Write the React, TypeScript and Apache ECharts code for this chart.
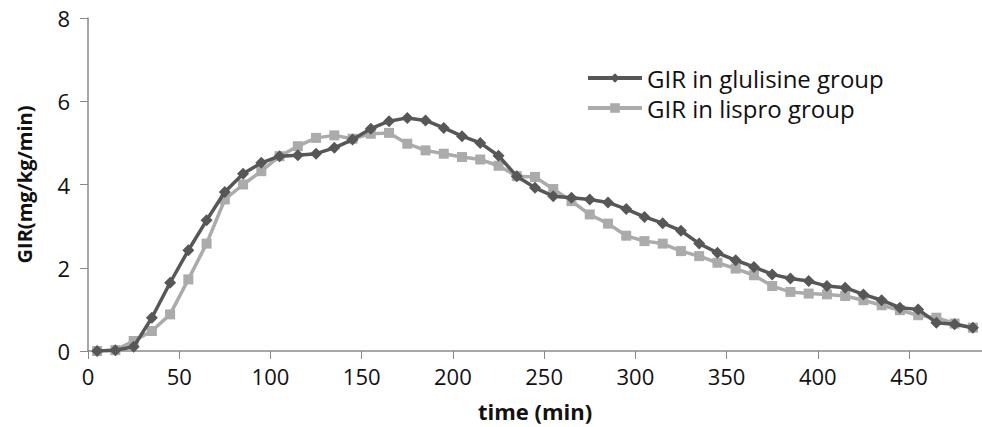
import React, { useEffect, useRef } from "react";
import * as echarts from "echarts";

const times = [5, 15, 25, 35, 45, 55, 65, 75, 85, 95, 105, 115, 125, 135, 145, 155, 165, 175, 185, 195, 205, 215, 225, 235, 245, 255, 265, 275, 285, 295, 305, 315, 325, 335, 345, 355, 365, 375, 385, 395, 405, 415, 425, 435, 445, 455, 465, 475, 485];
const glulisine = [0, 0.02, 0.1, 0.8, 1.64, 2.42, 3.14, 3.82, 4.26, 4.52, 4.68, 4.7, 4.74, 4.88, 5.08, 5.34, 5.52, 5.6, 5.54, 5.36, 5.16, 5.0, 4.69, 4.2, 3.92, 3.72, 3.68, 3.64, 3.57, 3.41, 3.22, 3.07, 2.89, 2.58, 2.36, 2.18, 2.02, 1.84, 1.74, 1.68, 1.56, 1.52, 1.36, 1.22, 1.04, 1.0, 0.68, 0.64, 0.56];
const lispro = [0, 0.02, 0.24, 0.48, 0.88, 1.72, 2.58, 3.64, 4.0, 4.32, 4.68, 4.92, 5.12, 5.18, 5.1, 5.22, 5.24, 4.98, 4.82, 4.74, 4.66, 4.6, 4.45, 4.2, 4.18, 3.89, 3.6, 3.28, 3.06, 2.77, 2.64, 2.58, 2.4, 2.28, 2.12, 1.98, 1.82, 1.56, 1.42, 1.38, 1.36, 1.32, 1.22, 1.1, 0.98, 0.86, 0.8, 0.66, 0.56];
const seriesNames = ["GIR in glulisine group", "GIR in lispro group"];
const xTitle = "time (min)";
const yTitle = "GIR(mg/kg/min)";

const FONT = "'Open Sans', 'Liberation Sans', sans-serif";

export default function App() {
  const ref = useRef<HTMLDivElement>(null);
  useEffect(() => {
    if (!ref.current) return;
    const chart = echarts.init(ref.current, undefined, { renderer: "svg" });
    const axisColor = "#8a8a8a";
    chart.setOption({
      animation: false,
      backgroundColor: "#ffffff",
      textStyle: { fontFamily: FONT },
      grid: { left: 88, right: 0, top: 18, bottom: 75 },
      legend: {
        orient: "vertical",
        left: 581,
        top: 61,
        itemWidth: 54,
        itemHeight: 12,
        itemGap: 6,
        lineStyle: { width: 4 },
        textStyle: { fontSize: 24, color: "#111", fontFamily: FONT },
        data: seriesNames,
      },
      xAxis: {
        type: "value",
        min: 0,
        max: 490,
        interval: 50,
        name: xTitle,
        nameLocation: "middle",
        nameGap: 49,
        nameTextStyle: { fontSize: 22, fontWeight: "bold", color: "#111", fontFamily: FONT },
        axisLine: { lineStyle: { color: axisColor, width: 1.5 } },
        axisTick: { show: true, length: 8, lineStyle: { color: axisColor } },
        axisLabel: {
          fontSize: 22,
          color: "#111",
          margin: 14,
          showMaxLabel: false,
          formatter: (v: number) => (v % 50 === 0 ? String(v) : ""),
        },
        splitLine: { show: false },
      },
      yAxis: {
        type: "value",
        min: 0,
        max: 8,
        interval: 2,
        name: yTitle,
        nameLocation: "middle",
        nameGap: 54,
        nameTextStyle: { fontSize: 20, fontWeight: "bold", color: "#111", fontFamily: FONT },
        axisLine: { show: true, lineStyle: { color: axisColor, width: 1.5 } },
        axisTick: { show: true, length: 8, lineStyle: { color: axisColor } },
        axisLabel: { fontSize: 22, color: "#111", margin: 18 },
        splitLine: { show: false },
      },
      series: [
        {
          name: seriesNames[0],
          type: "line",
          data: times.map((t, i) => [t, glulisine[i]]),
          symbol: "diamond",
          symbolSize: 12,
          itemStyle: { color: "#575757" },
          lineStyle: { color: "#575757", width: 3.5 },
          z: 3,
        },
        {
          name: seriesNames[1],
          type: "line",
          data: times.map((t, i) => [t, lispro[i]]),
          symbol: "rect",
          symbolSize: 10,
          itemStyle: { color: "#ababab" },
          lineStyle: { color: "#ababab", width: 3.5 },
          z: 2,
        },
      ],
    });
    return () => chart.dispose();
  }, []);
  return (
    <div
      ref={ref}
      style={{ position: "absolute", left: 0, top: 0, width: 982, height: 427 }}
    />
  );
}
